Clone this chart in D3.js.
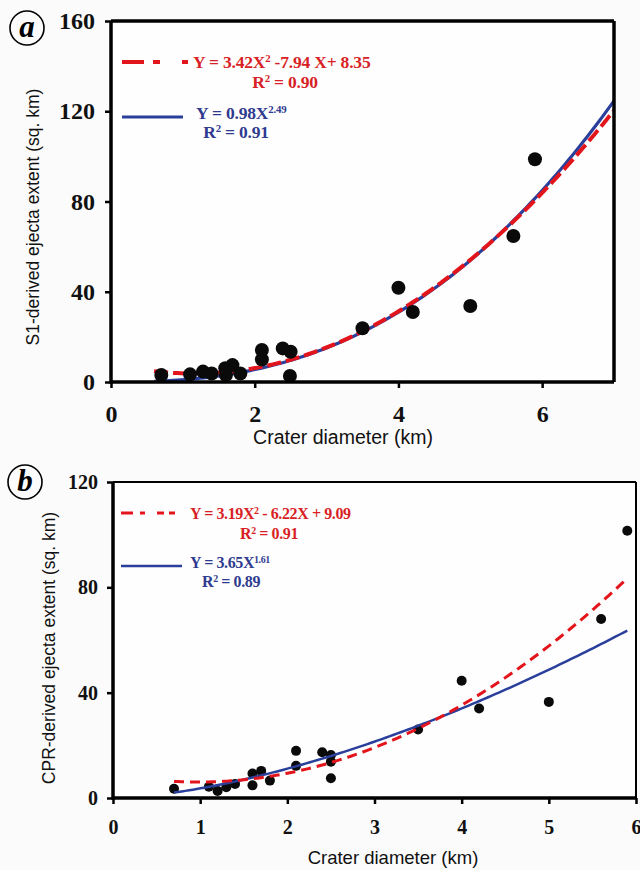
<!DOCTYPE html>
<html><head><meta charset="utf-8">
<script src="https://cdn.jsdelivr.net/npm/d3@7"></script>
<style>
html,body{margin:0;padding:0;background:#fbfbfb;}
svg{display:block;}
</style></head>
<body>
<svg id="chart" width="640" height="870"></svg>
<script>
// ---------- DATA ----------
// Panel a: S1-derived ejecta extent
const diamA  = [0.7, 1.1, 1.28, 1.4, 1.59, 1.6, 1.69, 1.8, 2.1, 2.1, 2.39, 2.5, 2.49, 3.5, 4.0, 4.2, 5.0, 5.6, 5.9];
const extA   = [3.1, 3.4, 4.6, 3.8, 6.1, 3.1, 7.5, 3.8, 14.2, 10.0, 14.9, 13.4, 2.7, 23.8, 41.8, 31.0, 33.7, 64.7, 98.7];
// Panel b: CPR-derived ejecta extent
const diamB  = [0.7, 1.1, 1.2, 1.3, 1.4, 1.6, 1.6, 1.7, 1.8, 2.1, 2.1, 2.4, 2.5, 2.5, 2.5, 3.5, 4.0, 4.2, 5.0, 5.6, 5.9];
const extB   = [3.5, 4.3, 2.7, 4.1, 5.3, 9.3, 4.8, 10.3, 6.6, 17.9, 12.2, 17.4, 16.3, 13.8, 7.5, 26.0, 44.5, 34.0, 36.5, 68.0, 101.5];
// Fits (coefficients as printed on the chart)
const quadA = [3.42, -7.94, 8.35];   // Y = aX^2 + bX + c
const powA  = [0.98, 2.49];          // Y = aX^b
const quadB = [3.19, -6.22, 9.09];
const powB  = [3.65, 1.61];
const fitRangeA = [0.6, 7.0];
const fitRangeB = [0.7, 5.9];
// Ticks
const xTicksA = [0, 2, 4, 6];
const yTicksA = [0, 40, 80, 120, 160];
const xTicksB = [0, 1, 2, 3, 4, 5, 6];
const yTicksB = [0, 40, 80, 120];

// ---------- DRAW ----------
const svg = d3.select("#chart");
const RED = "#e3151c", BLUE = "#2a3f9b";
const RED_T = "#d81f26", BLUE_T = "#2f3b8f";
const SERIF = "'Liberation Serif','Times New Roman',serif";
const SANS = "'Liberation Sans',Arial,sans-serif";

const quad = c => x => c[0]*x*x + c[1]*x + c[2];
const pow  = c => x => c[0]*Math.pow(x, c[1]);
function samples(r){ const a=[]; const n=120; for(let i=0;i<=n;i++) a.push(r[0]+(r[1]-r[0])*i/n); return a; }

function panel(o){
  const g = svg.append("g");
  const x = d3.scaleLinear().domain(o.xDom).range(o.xRange);
  const y = d3.scaleLinear().domain(o.yDom).range(o.yRange);
  g.append("rect").attr("x",o.xRange[0]).attr("y",o.yRange[1])
    .attr("width",o.xRange[1]-o.xRange[0]).attr("height",o.yRange[0]-o.yRange[1])
    .attr("fill","#fefefe");
  const line = d3.line().x(d=>x(d[0])).y(d=>y(d[1]));
  const xs = samples(o.fitRange);
  const drawPow = () => g.append("path").attr("d", line(xs.map(v=>[v,pow(o.pow)(v)])))
      .attr("fill","none").attr("stroke",BLUE).attr("stroke-width",o.blueW);
  const drawQuad = () => g.append("path").attr("d", line(xs.map(v=>[v,quad(o.quad)(v)])))
      .attr("fill","none").attr("stroke",RED).attr("stroke-width",o.redW)
      .attr("stroke-dasharray",o.dash);
  const pts = () => g.append("g").selectAll("circle").data(o.xs.map((v,i)=>[v,o.ys[i]]))
      .join("circle").attr("cx",d=>x(d[0])).attr("cy",d=>y(d[1])).attr("r",o.r).attr("fill","#0a0a0a");
  if(o.pointsFirst){ pts(); drawPow(); drawQuad(); } else { drawPow(); drawQuad(); pts(); }

  const ax = g.append("g").attr("transform",`translate(0,${o.yRange[0]})`)
    .call(d3.axisBottom(x).tickValues(o.xTicks).tickSize(6).tickPadding(o.xPad).tickFormat(d3.format("d")));
  const ay = g.append("g").attr("transform",`translate(${o.xRange[0]},0)`)
    .call(d3.axisLeft(y).tickValues(o.yTicks).tickSize(6).tickPadding(o.yPad).tickFormat(d3.format("d")));
  [ax,ay].forEach(a=>{
    a.select(".domain").remove();
    a.selectAll(".tick line").attr("stroke","#000").attr("stroke-width",2.5);
    a.selectAll(".tick text").attr("fill","#111").attr("font-family",SERIF)
      .attr("font-weight","bold").attr("font-size",o.tickFont);
  });
  g.append("line").attr("x1",o.xRange[0]).attr("x2",o.xRange[1]).attr("y1",o.yRange[0]).attr("y2",o.yRange[0])
    .attr("stroke","#000").attr("stroke-width",3.5);
  g.append("line").attr("x1",o.xRange[0]).attr("x2",o.xRange[0]).attr("y1",o.yRange[1]).attr("y2",o.yRange[0]+1.5)
    .attr("stroke","#000").attr("stroke-width",3.5);
  g.append("line").attr("x1",o.xRange[0]).attr("x2",o.xRange[1]).attr("y1",o.yRange[1]).attr("y2",o.yRange[1])
    .attr("stroke","#000").attr("stroke-width",o.topW);
  g.append("line").attr("x1",o.xRange[1]).attr("x2",o.xRange[1]).attr("y1",o.yRange[1]).attr("y2",o.yRange[0])
    .attr("stroke","#000").attr("stroke-width",o.topW);

  g.append("text").attr("x",o.xTitle[0]).attr("y",o.xTitle[1]).attr("text-anchor","middle")
    .attr("font-family",SANS).attr("font-size",o.xTitleFont).attr("fill","#111").text("Crater diameter (km)");
  g.append("text").attr("transform",`translate(${o.yTitle[0]},${o.yTitle[1]}) rotate(-90)`)
    .attr("text-anchor","middle").attr("font-family",SANS).attr("font-size",o.yTitleFont).attr("fill","#111")
    .text(o.yLabel);

  g.append("circle").attr("cx",o.letter[0]).attr("cy",o.letter[1]).attr("r",17)
    .attr("fill","none").attr("stroke","#000").attr("stroke-width",1.6);
  g.append("text").attr("x",o.letter[0]).attr("y",o.letter[1]+9).attr("text-anchor","middle")
    .attr("font-family",SERIF).attr("font-style","italic").attr("font-weight","bold").attr("font-size",31)
    .attr("fill","#000").text(o.letterText);

  const L = o.legend;
  g.append("line").attr("x1",L.lx[0]).attr("x2",L.lx[1]).attr("y1",L.y1).attr("y2",L.y1)
    .attr("stroke",RED).attr("stroke-width",o.redW).attr("stroke-dasharray",L.dash);
  g.append("line").attr("x1",L.lx[0]).attr("x2",L.blueEnd).attr("y1",L.y2).attr("y2",L.y2)
    .attr("stroke",BLUE).attr("stroke-width",o.blueW);
  const eq = (xp, yp, color, parts, anchor) => {
    const t = g.append("text").attr("x",xp).attr("y",yp).attr("text-anchor",anchor||"start")
      .attr("font-family",SERIF).attr("font-weight","bold").attr("font-size",L.font).attr("fill",color)
      .attr("letter-spacing",L.ls);
    parts.forEach(p=>{
      const s = t.append("tspan").text(p[0]);
      if(p[1]) s.attr("baseline-shift","super").attr("font-size",L.font*0.62);
    });
  };
  eq(L.tx, L.y1+6, RED_T, L.redEq);
  eq(L.r2x1, L.y1+26, RED_T, L.redR2, "middle");
  eq(L.tx2, L.y2+2, BLUE_T, L.blueEq);
  eq(L.r2x2, L.y2+21, BLUE_T, L.blueR2, "middle");
}

panel({
  xDom:[0,7], xRange:[111,614], yDom:[0,160], yRange:[382,21],
  xs:diamA, ys:extA, r:7, quad:quadA, pow:powA, fitRange:fitRangeA,
  redW:4, blueW:3.2, dash:"14,5", pointsFirst:false,
  xTicks:xTicksA, yTicks:yTicksA, xPad:17, yPad:10, tickFont:24, topW:3.5,
  xTitle:[343,444], yTitle:[39,217], xTitleFont:19.5, yTitleFont:17.5, yLabel:"S1-derived ejecta extent (sq. km)",
  letter:[27,28], letterText:"a",
  legend:{ lx:[122,188], blueEnd:183, y1:62, y2:117, dash:"22,9,7", font:17.5, ls:-0.2,
    tx:193, r2x1:285, tx2:196, r2x2:236,
    redEq:[["Y = 3.42X"],["2",1],[" -7.94 X+ 8.35"]],
    redR2:[["R"],["2",1],[" = 0.90"]],
    blueEq:[["Y = 0.98X"],["2.49",1]],
    blueR2:[["R"],["2",1],[" = 0.91"]] }
});

panel({
  xDom:[0,6], xRange:[113,636], yDom:[0,120], yRange:[798,482],
  xs:diamB, ys:extB, r:5, quad:quadB, pow:powB, fitRange:fitRangeB,
  redW:3, blueW:2.5, dash:"10,6", pointsFirst:true,
  xTicks:xTicksB, yTicks:yTicksB, xPad:16, yPad:9, tickFont:20, topW:2,
  xTitle:[393,864], yTitle:[55,648], xTitleFont:18.5, yTitleFont:17.5, yLabel:"CPR-derived ejecta extent (sq. km)",
  letter:[25,482], letterText:"b",
  legend:{ lx:[121,175], blueEnd:182, y1:513, y2:566, dash:"12,7,5", font:16, ls:-0.4,
    tx:190, r2x1:269, tx2:190, r2x2:231,
    redEq:[["Y = 3.19X"],["2",1],[" - 6.22X + 9.09"]],
    redR2:[["R"],["2",1],[" = 0.91"]],
    blueEq:[["Y = 3.65X"],["1.61",1]],
    blueR2:[["R"],["2",1],[" = 0.89"]] }
});
</script>
</body></html>
